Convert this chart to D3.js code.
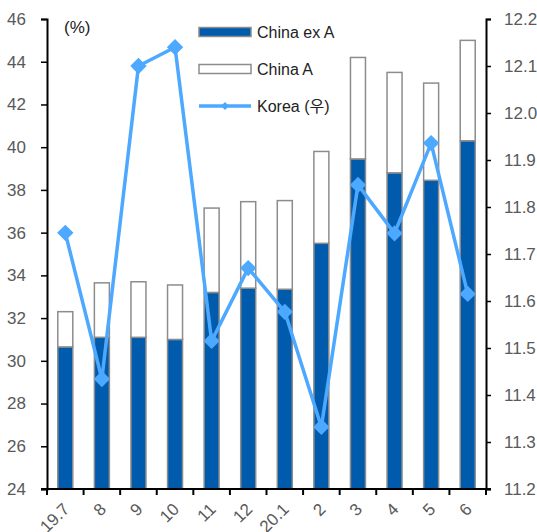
<!DOCTYPE html>
<html>
<head>
<meta charset="utf-8">
<script src="https://cdn.jsdelivr.net/npm/d3@7"></script>
<style>
  html, body { margin: 0; padding: 0; background: #fff; }
  text { font-family: "Liberation Sans", Arial, "Noto Sans CJK KR", sans-serif; }
</style>
</head>
<body>
<div id="chart"></div>
<script>
// month labels (2019.7 ~ 2020.6)
const months = ["19.7", "8", "9", "10", "11", "12", "20.1", "2", "3", "4", "5", "6"]
// stacked bars, left axis (%)
const chinaExA = [30.65, 31.1, 31.1, 31.0, 33.2, 33.4, 33.35, 35.5, 39.45, 38.8, 38.45, 40.3]
const chinaTotal = [32.3, 33.65, 33.7, 33.55, 37.15, 37.45, 37.5, 39.8, 44.2, 43.5, 43.0, 45.0]
const chinaA = chinaTotal.map((t, i) => t - chinaExA[i])
// line, right axis
const korea = [11.745, 11.434, 12.10, 12.14, 11.515, 11.67, 11.577, 11.332, 11.847, 11.744, 11.936, 11.615]

const leftTicks = d3.range(24, 46.1, 2)
const rightTicks = d3.range(11.2, 12.21, 0.1)

const width = 537
const height = 532
const margin = { top: 19, right: 51, bottom: 43, left: 47 }

const svg = d3.select("#chart")
  .append("svg")
  .attr("width", width)
  .attr("height", height)

const x = d3.scaleBand()
  .domain(months)
  .range([margin.left, width - margin.right])
  .paddingInner(0.59)
  .paddingOuter(0.295)

const yL = d3.scaleLinear().domain([24, 46]).range([height - margin.bottom, margin.top])
const yR = d3.scaleLinear().domain([11.2, 12.2]).range([height - margin.bottom, margin.top])

const darkBlue = "#005bac"
const lineBlue = "#4da8ff"
const barStroke = "#8c8c8c"

// bars: China ex A (bottom) + China A (top)
const g = svg.append("g")
months.forEach((m, i) => {
  g.append("rect")
    .attr("x", x(m))
    .attr("y", yL(chinaExA[i]))
    .attr("width", x.bandwidth())
    .attr("height", yL(24) - yL(chinaExA[i]))
    .attr("fill", darkBlue)
    .attr("stroke", barStroke)
    .attr("stroke-width", 1.5)
  g.append("rect")
    .attr("x", x(m))
    .attr("y", yL(chinaTotal[i]))
    .attr("width", x.bandwidth())
    .attr("height", yL(chinaTotal[i] - chinaA[i]) - yL(chinaTotal[i]))
    .attr("fill", "#fff")
    .attr("stroke", barStroke)
    .attr("stroke-width", 1.5)
})

// Korea line
const cx = m => x(m) + x.bandwidth() / 2
const line = d3.line()
  .x((d, i) => cx(months[i]))
  .y(d => yR(d))

svg.append("path")
  .datum(korea)
  .attr("d", line)
  .attr("fill", "none")
  .attr("stroke", lineBlue)
  .attr("stroke-width", 3.5)
  .attr("stroke-linejoin", "round")

const diamond = d3.symbol().type(d3.symbolDiamond2).size(170)
svg.selectAll(".pt")
  .data(korea)
  .join("path")
  .attr("class", "pt")
  .attr("transform", (d, i) => `translate(${cx(months[i])},${yR(d)})`)
  .attr("d", diamond)
  .attr("fill", lineBlue)

// axes
const axisColor = "#000"
const labelColor = "#595959"

const leftAxis = svg.append("g")
  .attr("transform", `translate(${margin.left},0)`)
  .call(d3.axisLeft(yL).tickValues(leftTicks).tickSize(6).tickPadding(15).tickFormat(d3.format("d")))

const rightAxis = svg.append("g")
  .attr("transform", `translate(${width - margin.right},0)`)
  .call(d3.axisRight(yR).tickValues(rightTicks).tickSize(5).tickPadding(13).tickFormat(d3.format(".1f")))

const bottomAxis = svg.append("g")
  .attr("transform", `translate(0,${height - margin.bottom})`)
  .call(d3.axisBottom(x).tickSize(0).tickFormat(""))

// tick marks between months
const edges = months.map(m => x(m) - x.step() * x.paddingInner() / 2).concat([width - margin.right])
bottomAxis.selectAll(".edge")
  .data(edges)
  .join("line")
  .attr("x1", d => d).attr("x2", d => d)
  .attr("y1", 0).attr("y2", 6)
  .attr("stroke", axisColor)
  .attr("stroke-width", 2)

bottomAxis.selectAll(".mlabel")
  .data(months)
  .join("text")
  .attr("class", "mlabel")
  .attr("transform", d => `translate(${cx(d) + 1},17) rotate(-45)`)
  .attr("text-anchor", "end")
  .attr("dy", "0.35em")
  .attr("fill", labelColor)
  .attr("font-size", 17)
  .text(d => d)

;[leftAxis, rightAxis, bottomAxis].forEach(a => {
  a.select(".domain").attr("stroke", axisColor).attr("stroke-width", 2)
  a.selectAll(".tick line").attr("stroke", axisColor).attr("stroke-width", 1.5)
  a.selectAll(".tick text").attr("fill", labelColor).attr("font-size", 17)
})
bottomAxis.select(".domain").attr("d", `M${margin.left - 6},0H${width - margin.right + 5}`)

// unit label
svg.append("text")
  .attr("x", 64)
  .attr("y", 33)
  .attr("fill", "#222")
  .attr("font-size", 17)
  .text("(%)")

// legend
const legend = svg.append("g").attr("transform", "translate(199,0)")
const legendItems = ["China ex A", "China A", "Korea (우)"]
const legendY = [32, 69, 106]

legend.append("rect")
  .attr("x", 0).attr("y", legendY[0] - 4.5)
  .attr("width", 52).attr("height", 9)
  .attr("fill", darkBlue).attr("stroke", barStroke).attr("stroke-width", 1.5)
legend.append("rect")
  .attr("x", 0).attr("y", legendY[1] - 4.5)
  .attr("width", 52).attr("height", 9)
  .attr("fill", "#fff").attr("stroke", barStroke).attr("stroke-width", 1.5)
legend.append("line")
  .attr("x1", 0).attr("x2", 52)
  .attr("y1", legendY[2]).attr("y2", legendY[2])
  .attr("stroke", lineBlue).attr("stroke-width", 3.5)
legend.append("path")
  .attr("transform", `translate(26,${legendY[2]})`)
  .attr("d", d3.symbol().type(d3.symbolDiamond2).size(40))
  .attr("fill", lineBlue)

legend.selectAll(".ltext")
  .data(legendItems)
  .join("text")
  .attr("class", "ltext")
  .attr("x", 58)
  .attr("y", (d, i) => legendY[i])
  .attr("dy", "0.35em")
  .attr("fill", "#222")
  .attr("font-size", 16)
  .text(d => d)
</script>
</body>
</html>
